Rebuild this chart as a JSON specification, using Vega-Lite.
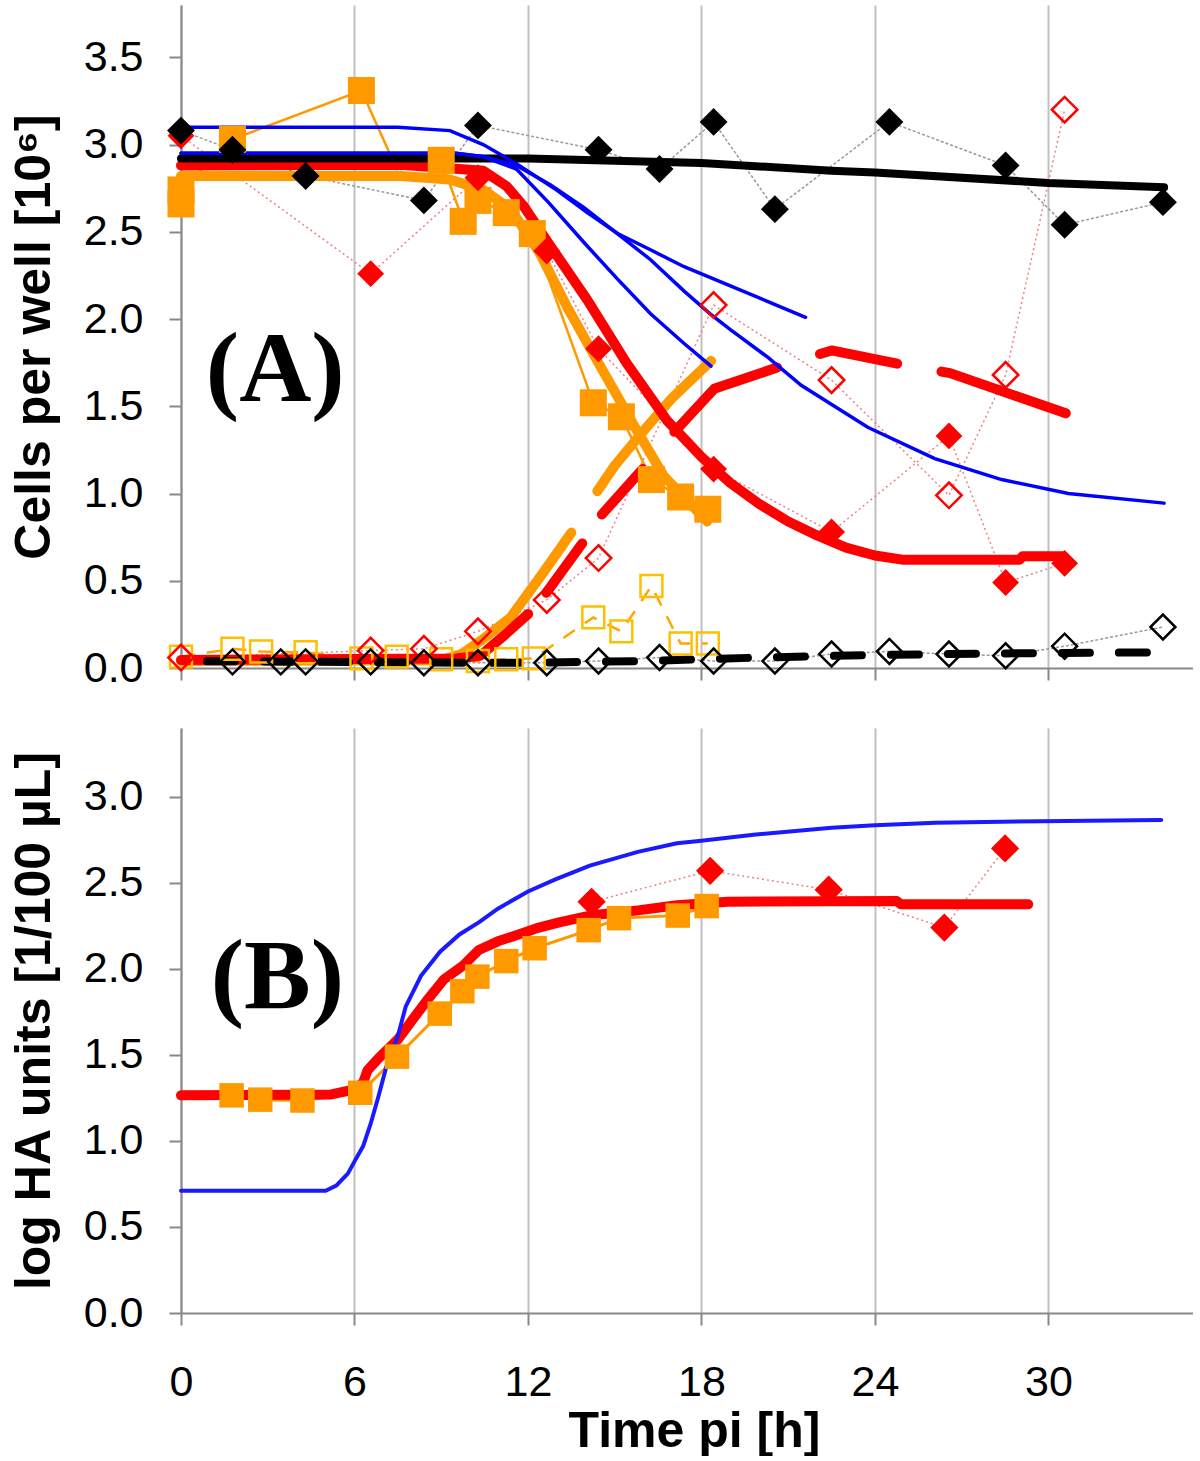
{
  "$schema": "https://vega.github.io/schema/vega-lite/v6.json",
  "padding": {"left": 9, "top": 5, "right": 0, "bottom": 0},
  "spacing": 38,
  "config": {
    "font": "Liberation Sans",
    "view": {"stroke": null},
    "axis": {
      "labelFont": "Liberation Sans", "labelFontSize": 43, "labelColor": "#000000",
      "titleFont": "Liberation Sans", "titleFontSize": 50, "titleFontWeight": "bold", "titleColor": "#000000",
      "domainColor": "#888888", "domainWidth": 2, "tickColor": "#888888", "tickWidth": 2, "tickSize": 12, "grid": false, "labelFlush": false
    }
  },
  "vconcat": [
    {
      "width": 1012, "height": 663,
      "encoding": {
        "x": {"field": "t", "type": "quantitative", "scale": {"domain": [0, 35], "nice": false},
              "axis": {"values": [0, 6, 12, 18, 24, 30], "labels": false, "title": null, "grid": true, "gridColor": "#c0c0c0", "gridWidth": 2}},
        "y": {"field": "v", "type": "quantitative", "scale": {"domain": [0, 3.8], "nice": false},
              "axis": {"values": [0, 0.5, 1, 1.5, 2, 2.5, 3, 3.5], "format": ".1f", "title": "Cells per well [10⁶]", "labelPadding": 26, "titlePadding": 24}}
      },
      "layer": [
        {"data": {"values": [{"t":0,"v":3.08},{"t":1.78,"v":2.97},{"t":4.31,"v":2.82},{"t":8.4,"v":2.68},{"t":10.27,"v":3.11},{"t":14.44,"v":2.97},{"t":16.55,"v":2.86},{"t":18.42,"v":3.13},{"t":20.54,"v":2.63},{"t":24.5,"v":3.13},{"t":28.52,"v":2.88},{"t":30.56,"v":2.54},{"t":33.96,"v":2.67}]},
         "mark": {"type": "line", "color": "#999999", "strokeWidth": 1.5, "strokeDash": [3, 2]}},
        {"data": {"values": [{"t":1.78,"v":0.035},{"t":3.45,"v":0.035},{"t":4.31,"v":0.035},{"t":6.56,"v":0.035},{"t":8.4,"v":0.03},{"t":10.27,"v":0.03},{"t":12.65,"v":0.03},{"t":14.44,"v":0.04},{"t":16.55,"v":0.06},{"t":18.42,"v":0.04},{"t":20.54,"v":0.04},{"t":22.5,"v":0.08},{"t":24.5,"v":0.095},{"t":26.56,"v":0.08},{"t":28.52,"v":0.07},{"t":30.56,"v":0.125},{"t":33.96,"v":0.235}]},
         "mark": {"type": "line", "color": "#999999", "strokeWidth": 1.5, "strokeDash": [3, 2]}},
        {"data": {"values": [{"t":0,"v":3.05},{"t":6.56,"v":2.26},{"t":10.27,"v":2.81},{"t":12.65,"v":2.39},{"t":14.44,"v":1.83},{"t":18.42,"v":1.14},{"t":22.5,"v":0.78},{"t":26.56,"v":1.33},{"t":28.52,"v":0.49},{"t":30.56,"v":0.6}]},
         "mark": {"type": "line", "color": "#f08080", "strokeWidth": 1.5, "strokeDash": [2, 3]}},
        {"data": {"values": [{"t":0,"v":0.06},{"t":6.56,"v":0.1},{"t":8.4,"v":0.11},{"t":10.27,"v":0.21},{"t":12.65,"v":0.39},{"t":14.44,"v":0.63},{"t":18.42,"v":2.08},{"t":22.5,"v":1.65},{"t":26.56,"v":0.99},{"t":28.52,"v":1.68},{"t":30.56,"v":3.2}]},
         "mark": {"type": "line", "color": "#f08080", "strokeWidth": 1.5, "strokeDash": [2, 3]}},
        {"data": {"values": [{"t":0,"v":2.66},{"t":0.01,"v":2.74},{"t":1.78,"v":3.03},{"t":6.24,"v":3.31},{"t":7.46,"v":2.86},{"t":9.0,"v":2.91},{"t":9.76,"v":2.56},{"t":10.27,"v":2.68},{"t":11.25,"v":2.61},{"t":12.15,"v":2.49},{"t":14.26,"v":1.52},{"t":15.23,"v":1.44},{"t":16.27,"v":1.08},{"t":17.28,"v":0.98},{"t":18.22,"v":0.91}]},
         "mark": {"type": "line", "color": "#ff9900", "strokeWidth": 2.5}},
        {"data": {"values": [{"t":0,"v":0.065},{"t":1.78,"v":0.11},{"t":2.77,"v":0.095},{"t":4.31,"v":0.09},{"t":6.24,"v":0.055},{"t":7.46,"v":0.065},{"t":9.0,"v":0.05},{"t":10.27,"v":0.04},{"t":11.25,"v":0.05},{"t":12.2,"v":0.055},{"t":14.26,"v":0.29},{"t":15.23,"v":0.21},{"t":16.27,"v":0.47},{"t":17.28,"v":0.14},{"t":18.22,"v":0.14}]},
         "mark": {"type": "line", "color": "#ffa500", "strokeWidth": 2.5, "strokeDash": [14, 12]}},
        {"data": {"values": [{"t":0,"v":2.82},{"t":7.6,"v":2.82},{"t":9.3,"v":2.8},{"t":10.45,"v":2.74},{"t":11.4,"v":2.63},{"t":12.4,"v":2.38},{"t":13.35,"v":2.07},{"t":14.5,"v":1.73},{"t":15.7,"v":1.38},{"t":16.7,"v":1.1},{"t":17.5,"v":0.96},{"t":18.2,"v":0.84}]},
         "mark": {"type": "line", "color": "#ff9900", "strokeWidth": 10, "strokeCap": "round", "strokeJoin": "round"}},
        {"data": {"values": [{"t":0,"v":0.04},{"t":9.0,"v":0.045},{"t":9.7,"v":0.08},{"t":10.4,"v":0.16},{"t":11.4,"v":0.29},{"t":12.5,"v":0.54},{"t":13.6,"v":0.8},{"t":14.3,"v":0.99},{"t":15.0,"v":1.16},{"t":16.0,"v":1.36},{"t":17.0,"v":1.55},{"t":18.33,"v":1.76}]},
         "mark": {"type": "line", "color": "#ff9900", "strokeWidth": 10, "strokeCap": "round", "strokeJoin": "round", "strokeDash": [447, 49, 400]}},
        {"data": {"values": [{"t":0,"v":2.88},{"t":7.6,"v":2.885},{"t":10.45,"v":2.85},{"t":11.27,"v":2.76},{"t":11.84,"v":2.65},{"t":12.77,"v":2.42},{"t":14.05,"v":2.11},{"t":15.4,"v":1.75},{"t":16.8,"v":1.42},{"t":18.0,"v":1.21},{"t":19.0,"v":1.06},{"t":20.0,"v":0.94},{"t":21.0,"v":0.84},{"t":22.0,"v":0.76},{"t":23.0,"v":0.69},{"t":24.0,"v":0.645},{"t":25.0,"v":0.62},{"t":29.0,"v":0.62},{"t":29.1,"v":0.64},{"t":30.5,"v":0.64}]},
         "mark": {"type": "line", "color": "#ff0000", "strokeWidth": 10, "strokeCap": "round", "strokeJoin": "round"}},
        {"data": {"values": [{"t":0,"v":0.046},{"t":9.5,"v":0.055},{"t":10.35,"v":0.07},{"t":11.2,"v":0.19},{"t":12.14,"v":0.33},{"t":12.54,"v":0.41},{"t":13.99,"v":0.74},{"t":14.45,"v":0.86},{"t":16.07,"v":1.16},{"t":16.93,"v":1.33},{"t":18.44,"v":1.6},{"t":20.75,"v":1.73},{"t":21.9,"v":1.79},{"t":22.5,"v":1.82},{"t":24.9,"v":1.74},{"t":26.6,"v":1.69},{"t":30.6,"v":1.46}]},
         "mark": {"type": "line", "color": "#ff0000", "strokeWidth": 10, "strokeCap": "round", "strokeJoin": "round", "strokeDash": [363, 28, 61, 35, 61, 49, 125, 45, 79, 45, 300]}},
        {"data": {"values": [{"t":0,"v":2.92},{"t":12,"v":2.92},{"t":18,"v":2.895},{"t":22.5,"v":2.85},{"t":24,"v":2.84},{"t":30,"v":2.78},{"t":34,"v":2.755}]},
         "mark": {"type": "line", "color": "#000000", "strokeWidth": 8, "strokeCap": "round", "strokeJoin": "round"}},
        {"data": {"values": [{"t":0,"v":0.04},{"t":10,"v":0.03},{"t":12,"v":0.03},{"t":16,"v":0.04},{"t":20,"v":0.06},{"t":24,"v":0.075},{"t":28,"v":0.083},{"t":34,"v":0.09}]},
         "mark": {"type": "line", "color": "#000000", "strokeWidth": 8, "strokeCap": "round", "strokeDash": [28, 29], "strokeDashOffset": 31}},
        {"data": {"values": [{"t":0,"v":3.1},{"t":7.5,"v":3.1},{"t":9.3,"v":3.08},{"t":10.45,"v":3.0},{"t":11.6,"v":2.89},{"t":12.9,"v":2.75},{"t":14.05,"v":2.61},{"t":15.1,"v":2.49},{"t":16.2,"v":2.4},{"t":17.4,"v":2.3},{"t":19.0,"v":2.19},{"t":20.3,"v":2.1},{"t":21.6,"v":2.01}]},
         "mark": {"type": "line", "color": "#0000ff", "strokeWidth": 3.5, "strokeCap": "round"}},
        {"data": {"values": [{"t":0,"v":2.95},{"t":9.5,"v":2.95},{"t":10.5,"v":2.93},{"t":11.6,"v":2.88},{"t":12.77,"v":2.77},{"t":13.93,"v":2.64},{"t":15.09,"v":2.49},{"t":16.24,"v":2.34},{"t":17.4,"v":2.16},{"t":18.3,"v":2.03},{"t":19.0,"v":1.94},{"t":20.3,"v":1.78},{"t":21.45,"v":1.62},{"t":23.75,"v":1.38},{"t":26.07,"v":1.2},{"t":28.38,"v":1.08},{"t":30.69,"v":1.0},{"t":34.0,"v":0.945}]},
         "mark": {"type": "line", "color": "#0000ff", "strokeWidth": 3.5, "strokeCap": "round"}},
        {"data": {"values": [{"t":0,"v":2.95},{"t":9.5,"v":2.95},{"t":10.45,"v":2.93},{"t":11.6,"v":2.86},{"t":12.7,"v":2.67},{"t":13.93,"v":2.44},{"t":15.09,"v":2.23},{"t":16.24,"v":2.03},{"t":17.4,"v":1.86},{"t":18.33,"v":1.73}]},
         "mark": {"type": "line", "color": "#0000ff", "strokeWidth": 3.5, "strokeCap": "round"}},
        {"data": {"values": [{"t":0,"v":2.66},{"t":0,"v":2.74},{"t":1.78,"v":3.03},{"t":6.24,"v":3.31},{"t":9.0,"v":2.91},{"t":9.76,"v":2.56},{"t":10.27,"v":2.68},{"t":11.25,"v":2.61},{"t":12.15,"v":2.49},{"t":14.26,"v":1.52},{"t":15.23,"v":1.44},{"t":16.27,"v":1.08},{"t":17.28,"v":0.98},{"t":18.22,"v":0.91}]},
         "mark": {"type": "point", "shape": "square", "filled": true, "color": "#ff9900", "opacity": 1, "size": 729}},
        {"data": {"values": [{"t":0,"v":0.065},{"t":1.78,"v":0.11},{"t":2.77,"v":0.095},{"t":4.31,"v":0.09},{"t":6.24,"v":0.055},{"t":7.46,"v":0.065},{"t":9.0,"v":0.05},{"t":10.27,"v":0.04},{"t":11.25,"v":0.05},{"t":12.2,"v":0.055},{"t":14.26,"v":0.29},{"t":15.23,"v":0.21},{"t":16.27,"v":0.47},{"t":17.28,"v":0.14},{"t":18.22,"v":0.14}]},
         "mark": {"type": "point", "shape": "square", "filled": false, "color": "#ffbf00", "strokeWidth": 2.5, "opacity": 1, "size": 480}},
        {"data": {"values": [{"t":0,"v":3.05},{"t":6.56,"v":2.26},{"t":10.27,"v":2.81},{"t":12.65,"v":2.39},{"t":14.44,"v":1.83},{"t":18.42,"v":1.14},{"t":22.5,"v":0.78},{"t":26.56,"v":1.33},{"t":28.52,"v":0.49},{"t":30.56,"v":0.6}]},
         "mark": {"type": "point", "shape": "diamond", "filled": true, "color": "#ff0000", "opacity": 1, "size": 720}},
        {"data": {"values": [{"t":0,"v":0.06},{"t":6.56,"v":0.1},{"t":8.4,"v":0.11},{"t":10.27,"v":0.21},{"t":12.65,"v":0.39},{"t":14.44,"v":0.63},{"t":18.42,"v":2.08},{"t":22.5,"v":1.65},{"t":26.56,"v":0.99},{"t":28.52,"v":1.68},{"t":30.56,"v":3.2}]},
         "mark": {"type": "point", "shape": "diamond", "filled": false, "color": "#ff0000", "strokeWidth": 2.5, "opacity": 1, "size": 650}},
        {"data": {"values": [{"t":0,"v":3.08},{"t":1.78,"v":2.97},{"t":4.31,"v":2.82},{"t":8.4,"v":2.68},{"t":10.27,"v":3.11},{"t":14.44,"v":2.97},{"t":16.55,"v":2.86},{"t":18.42,"v":3.13},{"t":20.54,"v":2.63},{"t":24.5,"v":3.13},{"t":28.52,"v":2.88},{"t":30.56,"v":2.54},{"t":33.96,"v":2.67}]},
         "mark": {"type": "point", "shape": "diamond", "filled": true, "color": "#000000", "opacity": 1, "size": 780}},
        {"data": {"values": [{"t":1.78,"v":0.035},{"t":3.45,"v":0.035},{"t":4.31,"v":0.035},{"t":6.56,"v":0.035},{"t":8.4,"v":0.03},{"t":10.27,"v":0.03},{"t":12.65,"v":0.03},{"t":14.44,"v":0.04},{"t":16.55,"v":0.06},{"t":18.42,"v":0.04},{"t":20.54,"v":0.04},{"t":22.5,"v":0.08},{"t":24.5,"v":0.095},{"t":26.56,"v":0.08},{"t":28.52,"v":0.07},{"t":30.56,"v":0.125},{"t":33.96,"v":0.235}]},
         "mark": {"type": "point", "shape": "diamond", "filled": false, "color": "#000000", "strokeWidth": 2.5, "opacity": 1, "size": 620}},
        {"data": {"values": [{"t":3.26,"v":1.53,"label":"(A)"}]},
         "mark": {"type": "text", "font": "Liberation Serif", "fontSize": 100, "fontWeight": "bold", "align": "center", "baseline": "alphabetic", "color": "#000000"},
         "encoding": {"text": {"field": "label"}}}
      ]
    },
    {
      "width": 1012, "height": 585,
      "encoding": {
        "x": {"field": "t", "type": "quantitative", "scale": {"domain": [0, 35], "nice": false},
              "axis": {"values": [0, 6, 12, 18, 24, 30], "title": "Time pi [h]", "labelPadding": 36, "titlePadding": 2, "titleX": 513, "grid": true, "gridColor": "#c0c0c0", "gridWidth": 2}},
        "y": {"field": "v", "type": "quantitative", "scale": {"domain": [0, 3.4], "nice": false},
              "axis": {"values": [0, 0.5, 1, 1.5, 2, 2.5, 3], "format": ".1f", "title": "log HA units [1/100 µL]", "labelPadding": 26, "titlePadding": 24}}
      },
      "layer": [
        {"data": {"values": [{"t":14.2,"v":2.39},{"t":18.3,"v":2.57},{"t":22.4,"v":2.46},{"t":26.4,"v":2.24},{"t":28.5,"v":2.7}]},
         "mark": {"type": "line", "color": "#f08080", "strokeWidth": 1.5, "strokeDash": [2, 3]}},
        {"data": {"values": [{"t":1.75,"v":1.265},{"t":2.74,"v":1.24},{"t":4.2,"v":1.235},{"t":6.2,"v":1.28},{"t":7.47,"v":1.49},{"t":8.95,"v":1.74},{"t":9.73,"v":1.87},{"t":10.25,"v":1.955},{"t":11.25,"v":2.045},{"t":12.23,"v":2.12},{"t":14.1,"v":2.225},{"t":15.15,"v":2.295},{"t":17.18,"v":2.31},{"t":18.18,"v":2.365}]},
         "mark": {"type": "line", "color": "#ff9900", "strokeWidth": 3}},
        {"data": {"values": [{"t":0,"v":1.265},{"t":5.2,"v":1.27},{"t":6.0,"v":1.3},{"t":6.3,"v":1.34},{"t":6.45,"v":1.41},{"t":6.83,"v":1.48},{"t":7.5,"v":1.59},{"t":8.03,"v":1.71},{"t":8.57,"v":1.83},{"t":9.1,"v":1.94},{"t":9.76,"v":2.02},{"t":10.3,"v":2.11},{"t":10.96,"v":2.16},{"t":11.5,"v":2.19},{"t":12.28,"v":2.235},{"t":13.08,"v":2.27},{"t":14.14,"v":2.31},{"t":15.8,"v":2.34},{"t":17.15,"v":2.37},{"t":18.9,"v":2.39},{"t":24.75,"v":2.395},{"t":24.9,"v":2.375},{"t":29.3,"v":2.375}]},
         "mark": {"type": "line", "color": "#ff0000", "strokeWidth": 10, "strokeCap": "round", "strokeJoin": "round"}},
        {"data": {"values": [{"t":0,"v":0.71},{"t":5.0,"v":0.71},{"t":5.37,"v":0.74},{"t":5.77,"v":0.81},{"t":6.03,"v":0.89},{"t":6.3,"v":0.97},{"t":6.56,"v":1.1},{"t":6.83,"v":1.26},{"t":7.1,"v":1.43},{"t":7.5,"v":1.61},{"t":7.77,"v":1.78},{"t":8.3,"v":1.96},{"t":8.96,"v":2.1},{"t":9.63,"v":2.2},{"t":10.3,"v":2.27},{"t":10.96,"v":2.35},{"t":12.0,"v":2.45},{"t":12.95,"v":2.52},{"t":14.14,"v":2.6},{"t":15.8,"v":2.68},{"t":17.15,"v":2.73},{"t":18.0,"v":2.745},{"t":19.8,"v":2.78},{"t":22.5,"v":2.82},{"t":24.0,"v":2.835},{"t":26.1,"v":2.85},{"t":30.6,"v":2.86},{"t":33.9,"v":2.865}]},
         "mark": {"type": "line", "color": "#1a1aff", "strokeWidth": 4, "strokeCap": "round"}},
        {"data": {"values": [{"t":1.75,"v":1.265},{"t":2.74,"v":1.24},{"t":4.2,"v":1.235},{"t":6.2,"v":1.28},{"t":7.47,"v":1.49},{"t":8.95,"v":1.74},{"t":9.73,"v":1.87},{"t":10.25,"v":1.955},{"t":11.25,"v":2.045},{"t":12.23,"v":2.12},{"t":14.1,"v":2.225},{"t":15.15,"v":2.295},{"t":17.18,"v":2.31},{"t":18.18,"v":2.365}]},
         "mark": {"type": "point", "shape": "square", "filled": true, "color": "#ff9900", "opacity": 1, "size": 600}},
        {"data": {"values": [{"t":14.2,"v":2.39},{"t":18.3,"v":2.57},{"t":22.4,"v":2.46},{"t":26.4,"v":2.24},{"t":28.5,"v":2.7}]},
         "mark": {"type": "point", "shape": "diamond", "filled": true, "color": "#ff0000", "opacity": 1, "size": 800}},
        {"data": {"values": [{"t":3.33,"v":1.77,"label":"(B)"}]},
         "mark": {"type": "text", "font": "Liberation Serif", "fontSize": 100, "fontWeight": "bold", "align": "center", "baseline": "alphabetic", "color": "#000000"},
         "encoding": {"text": {"field": "label"}}}
      ]
    }
  ]
}
